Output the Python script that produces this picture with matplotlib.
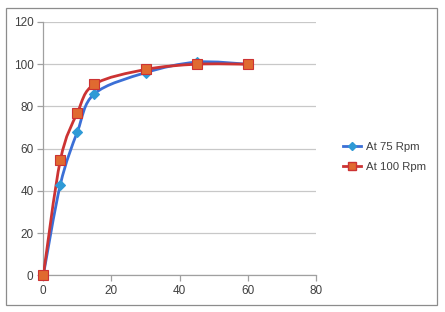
import matplotlib
matplotlib.use("Agg")
import matplotlib.pyplot as plt
from matplotlib.path import Path
from matplotlib.patches import PathPatch, Rectangle
from matplotlib.lines import Line2D
import numpy as np

time_min = [0, 5, 10, 15, 30, 45, 60]
rpm75 = [0, 43, 68, 86, 96, 101, 100]
rpm100 = [0, 54.5, 77, 90.5, 97.5, 100, 100]
series_names = ["At 75 Rpm", "At 100 Rpm"]
x_ticks = [0, 20, 40, 60, 80]
y_ticks = [0, 20, 40, 60, 80, 100, 120]

plt.rcParams['font.family'] = ['Liberation Sans', 'DejaVu Sans']

fig = plt.figure(figsize=(4.45, 3.12), dpi=100)
fig.patch.set_facecolor('white')
fig.patches.append(Rectangle((6/445, 1-305/312), (437-6)/445, (305-8)/312,
                             transform=fig.transFigure, fill=False,
                             edgecolor='#8c8c8c', linewidth=0.9))

ax = fig.add_axes([43.3/445, 1-275.3/312, (316-43.3)/445, (275.3-22)/312])
ax.set_xlim(0, 80)
ax.set_ylim(0, 120)


def smooth_path(xs, ys):
    pts = np.column_stack([xs, ys]).astype(float)
    n = len(pts)
    verts = [pts[0]]
    codes = [Path.MOVETO]
    for i in range(n - 1):
        p0 = pts[i - 1] if i > 0 else pts[i]
        p1 = pts[i]
        p2 = pts[i + 1]
        p3 = pts[i + 2] if i + 2 < n else pts[i + 1]
        c1 = p1 + (p2 - p0) / 6.0
        c2 = p2 - (p3 - p1) / 6.0
        verts += [c1, c2, p2]
        codes += [Path.CURVE4] * 3
    return Path(verts, codes)

line_cols = ['#3b6fd6', '#cc3333']
mk_face = ['#2f9ad6', '#e06a30']
mk_edge = ['#2f9ad6', '#cc3333']
markers = ['D', 's']
msize = [5, 7]

for k, ys in enumerate([rpm75, rpm100]):
    pp = PathPatch(smooth_path(time_min, ys), fill=False, edgecolor=line_cols[k],
                   linewidth=2.0, zorder=3 + k, capstyle='round')
    ax.add_patch(pp)
    ax.plot(time_min, ys, linestyle='none', marker=markers[k], markersize=msize[k],
            markerfacecolor=mk_face[k], markeredgecolor=mk_edge[k],
            markeredgewidth=0.8, zorder=5 + k, clip_on=False)

ax.set_xticks(x_ticks)
ax.set_yticks(y_ticks)
ax.yaxis.grid(True, color='#c8c8c8', linewidth=0.9)
ax.set_axisbelow(True)
for s in ['top', 'right']:
    ax.spines[s].set_visible(False)
for s in ['left', 'bottom']:
    ax.spines[s].set_color('#a0a0a0')
    ax.spines[s].set_linewidth(0.9)
ax.tick_params(axis='both', colors='#a0a0a0', labelcolor='#404040',
               labelsize=8.5, length=4, width=0.9)
ax.tick_params(axis='y', pad=3)
ax.tick_params(axis='x', pad=3)

handles = [Line2D([], [], color=line_cols[k], linewidth=2.0, marker=markers[k],
                  markersize=msize[k] - 1, markerfacecolor=mk_face[k],
                  markeredgecolor=mk_edge[k]) for k in range(2)]
fig.legend(handles, series_names, loc='center left',
           bbox_to_anchor=(333/445, 1-157/312), frameon=False,
           fontsize=8.2, handlelength=1.6, handletextpad=0.4,
           labelspacing=0.95, labelcolor='#404040')

fig.savefig('out.png', dpi=100, facecolor='white')
